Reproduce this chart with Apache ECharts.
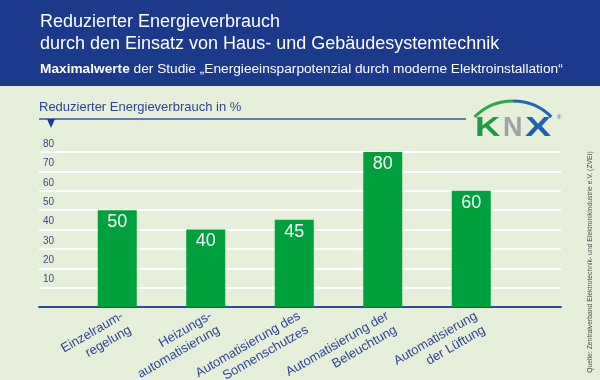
<!DOCTYPE html>
<html>
<head>
<meta charset="utf-8">
<script src="https://cdn.jsdelivr.net/npm/echarts@6/dist/echarts.min.js"></script>
<style>html,body{margin:0;padding:0;}#c{width:600px;height:380px;}</style>
</head>
<body>
<div id="c"></div>
<script>
var categories = ['Einzelraum-\nregelung', 'Heizungs-\nautomatisierung', 'Automatisierung des\nSonnenschutzes', 'Automatisierung der\nBeleuchtung', 'Automatisierung\nder Lüftung'];
var values = [50, 40, 45, 80, 60];
var yTicks = [10, 20, 30, 40, 50, 60, 70, 80];

var FONT = 'Liberation Sans';
var BLUE_TXT = '#2d4595';
var chart = echarts.init(document.getElementById('c'));
var deg = Math.PI / 180;

chart.setOption({
  backgroundColor: '#e6efd9',
  animation: false,
  title: [{
    text: 'Reduzierter Energieverbrauch\ndurch den Einsatz von Haus- und Gebäudesystemtechnik',
    left: 40, top: 11, padding: 0,
    textStyle: { color: '#ffffff', fontFamily: FONT, fontSize: 18, fontWeight: 'normal', lineHeight: 22 }
  }, {
    text: '{b|Maximalwerte} der Studie „Energieeinsparpotenzial durch moderne Elektroinstallation“',
    left: 40, top: 62, padding: 0,
    textStyle: { color: '#ffffff', fontFamily: FONT, fontSize: 13.7, fontWeight: 'normal',
      rich: { b: { fontWeight: 'bold', color: '#ffffff', fontFamily: FONT, fontSize: 13.7 } } }
  }, {
    text: 'Reduzierter Energieverbrauch in %',
    left: 39, top: 101, padding: 0,
    textStyle: { color: BLUE_TXT, fontFamily: FONT, fontSize: 13, fontWeight: 'normal' }
  }],
  grid: [
    { left: 39, right: 39, top: 152, bottom: 73, outerBoundsMode: 'none', containLabel: false },
    { left: 73, width: 442.5, top: 152, bottom: 73, outerBoundsMode: 'none', containLabel: false },
    { left: 82, width: 442.5, top: 152, bottom: 73, outerBoundsMode: 'none', containLabel: false }
  ],
  xAxis: [{
    gridIndex: 0, type: 'value', min: 0, max: 1,
    axisLine: { show: true, lineStyle: { color: '#2b4a9e', width: 2 } },
    axisTick: { show: false }, axisLabel: { show: false }, splitLine: { show: false }
  }, {
    gridIndex: 1, type: 'category', data: categories,
    axisLine: { show: false }, axisTick: { show: false }, axisLabel: { show: false }
  }, {
    gridIndex: 2, type: 'category', data: categories,
    axisLine: { show: false }, axisTick: { show: false },
    axisLabel: { show: true, interval: 0, rotate: 30, margin: 15, color: BLUE_TXT,
      fontFamily: FONT, fontSize: 13, lineHeight: 16, align: 'right' }
  }],
  yAxis: [{
    gridIndex: 0, type: 'value', min: 0, max: 80, interval: 10,
    axisLine: { show: false }, axisTick: { show: false },
    splitLine: { show: true, lineStyle: { color: '#ffffff', width: 2 } },
    axisLabel: { inside: true, margin: 4, color: '#3a4a8c', fontFamily: FONT, fontSize: 10,
      verticalAlign: 'bottom', padding: [0, 0, 3, 0],
      formatter: function (v) { return yTicks.indexOf(v) >= 0 ? String(v) : ''; } }
  }, {
    gridIndex: 1, type: 'value', min: 0, max: 80, show: false
  }, {
    gridIndex: 2, type: 'value', min: 0, max: 80, show: false
  }],
  series: [{
    type: 'bar', xAxisIndex: 1, yAxisIndex: 1, data: values, barWidth: 39,
    itemStyle: { color: '#00a03c' },
    label: { show: true, position: 'insideTop', distance: 3, color: '#ffffff', fontFamily: FONT, fontSize: 18 }
  }],
  graphic: [
    { type: 'rect', shape: { x: 0, y: 0, width: 600, height: 86 }, style: { fill: '#1b3a8c' }, z: -1 },
    { type: 'line', shape: { x1: 39, y1: 119, x2: 466, y2: 119 }, style: { stroke: '#3a55a0', lineWidth: 1.5 } },
    { type: 'polygon', shape: { points: [[47, 119], [55, 119], [51, 128]] }, style: { fill: '#1f3a8a' } },
    { type: 'arc', shape: { cx: 513, cy: 155.3, r: 54.3, startAngle: -135 * deg, endAngle: -90 * deg }, style: { stroke: '#2aa84a', lineWidth: 3, fill: null } },
    { type: 'arc', shape: { cx: 513, cy: 155.3, r: 54.3, startAngle: -90 * deg, endAngle: -45 * deg }, style: { stroke: '#2166b3', lineWidth: 3, fill: null } },
    { type: 'text', x: 475, y: 129, scaleX: 1.3, style: { text: 'K', fill: '#1f9a45', font: 'bold 27px ' + FONT, verticalAlign: 'middle' } },
    { type: 'text', x: 503, y: 129, scaleX: 1.0, style: { text: 'N', fill: '#9ea3a8', font: 'bold 27px ' + FONT, verticalAlign: 'middle' } },
    { type: 'text', x: 525, y: 129, scaleX: 1.45, style: { text: 'X', fill: '#1f62b0', font: 'bold 27px ' + FONT, verticalAlign: 'middle' } },
    { type: 'text', x: 557, y: 117, style: { text: '®', fill: '#1f62b0', font: '6px ' + FONT, verticalAlign: 'middle' } },
    { type: 'text', x: 590, y: 262, rotation: Math.PI / 2,
      style: { text: 'Quelle: Zentralverband Elektrotechnik- und Elektronikindustrie e.V. (ZVEI)', fill: '#4a4f4a',
        font: '6.8px ' + FONT, align: 'center', verticalAlign: 'middle' } }
  ]
});
</script>
</body>
</html>
